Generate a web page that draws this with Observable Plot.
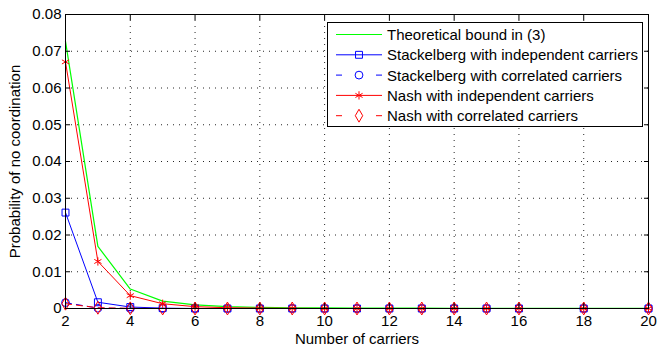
<!DOCTYPE html>
<html><head><meta charset="utf-8">
<script src="https://cdn.jsdelivr.net/npm/d3@7"></script>
<script src="https://cdn.jsdelivr.net/npm/@observablehq/plot@0.6"></script>
<style>
html,body{margin:0;padding:0;background:#fff;}
#wrap{position:relative;width:657px;height:347px;}
#legend{position:absolute;left:327px;top:22px;}
</style></head><body><div id="wrap"></div>
<script>
const carriers = [2,3,4,5,6,7,8,9,10,11,12,13,14,15,16,18,20];
const theoreticalBound = [0.0727,0.0169,0.0053,0.0020,0.0010,0.0005,0.0003,0.0002,0.00015,0.0001,0.0001,0.00008,0.00007,0.00006,0.00005,0.00005,0.00005];
const stackelbergIndependent = [0.0261,0.0017,0.0004,0.0001,0,0,0,0,0,0,0,0,0,0,0,0,0];
const stackelbergCorrelated = [0.0016,0.0001,0,0,0,0,0,0,0,0,0,0,0,0,0,0,0];
const nashIndependent = [0.0671,0.0128,0.0035,0.0013,0.0005,0.0002,0.0001,0.00005,0,0,0,0,0,0,0,0,0];
const nashCorrelated = [0.0013,0.0002,0.00005,0,0,0,0,0,0,0,0,0,0,0,0,0,0];
const xTicks = [2,4,6,8,10,12,14,16,18,20];
const yTicks = [0,0.01,0.02,0.03,0.04,0.05,0.06,0.07,0.08];
const yTickLabels = ["0","0.01","0.02","0.03","0.04","0.05","0.06","0.07","0.08"];
const xLabel = "Number of carriers";
const yLabel = "Probability of no coordination";
const seriesNames = ["Theoretical bound in (3)","Stackelberg with independent carriers","Stackelberg with correlated carriers","Nash with independent carriers","Nash with correlated carriers"];
const seriesValues = [theoreticalBound, stackelbergIndependent, stackelbergCorrelated, nashIndependent, nashCorrelated];
const seriesColors = ["#00ff00","#0000ff","#0000ff","#ff0000","#ff0000"];
const seriesDash = [null,null,"6,5",null,"6,5"];
const seriesSymbols = [null,"square","circle","asterisk","diamond"];

const R = 3.9;
const font = "'Liberation Sans', Arial, Helvetica, sans-serif";
const marks = [
  Plot.gridX(xTicks, {stroke: "#000", strokeOpacity: 0.85, strokeDasharray: "1,5"}),
  Plot.gridY(yTicks, {stroke: "#000", strokeOpacity: 0.85, strokeDasharray: "1,5"}),
];
seriesValues.forEach((vals, s) => {
  const rows = carriers.map((c, i) => ({x: c, y: vals[i]}));
  marks.push(Plot.line(rows, {x: "x", y: "y", stroke: seriesColors[s], strokeWidth: s === 0 ? 1.2 : 1, strokeDasharray: seriesDash[s]}));
  if (seriesSymbols[s]) marks.push(Plot.dot(rows, {x: "x", y: "y", r: R, symbol: () => seriesSymbols[s], stroke: seriesColors[s], fill: "none", strokeWidth: 1}));
});
marks.push(
  Plot.frame({stroke: "#000", strokeWidth: 1}),
  Plot.axisX(xTicks, {anchor: "bottom", tickSize: -5, tickPadding: 12, label: null}),
  Plot.axisX(xTicks, {anchor: "top", tickSize: -5, tickFormat: () => "", label: null}),
  Plot.axisY(yTicks, {anchor: "left", tickSize: -5, tickPadding: 9, tickFormat: (d, i) => yTickLabels[i], label: null}),
  Plot.axisY(yTicks, {anchor: "right", tickSize: -5, tickFormat: () => "", label: null}),
  Plot.text([xLabel], {frameAnchor: "bottom", dy: 31, text: d => d, lineAnchor: "middle"}),
  Plot.text([yLabel], {frameAnchor: "left", dx: -50, text: d => d, rotate: -90, lineAnchor: "middle", textAnchor: "middle"})
);

const chart = Plot.plot({
  width: 657, height: 347,
  marginLeft: 65, marginRight: 9, marginTop: 14, marginBottom: 39,
  x: {domain: [2, 20]},
  y: {domain: [0, 0.08]},
  style: {fontSize: "15px", fontFamily: font, color: "#000", background: "#fff", overflow: "visible"},
  marks
});
const wrap = document.getElementById("wrap");
wrap.appendChild(chart);

// legend
const lw = 315, lh = 104;
const leg = d3.select(wrap).append("svg").attr("id", "legend").attr("width", lw + 1).attr("height", lh + 1)
  .style("font-family", font).style("font-size", "15px");
leg.append("rect").attr("x", 0.5).attr("y", 0.5).attr("width", lw).attr("height", lh).attr("fill", "#fff").attr("stroke", "#000");
const symMap = {square: d3.symbolSquare, circle: d3.symbolCircle, asterisk: d3.symbolAsterisk, diamond: d3.symbolDiamond};
seriesNames.forEach((name, s) => {
  const cy = 12.5 + s * 20.3;
  const segs = seriesDash[s] ? [[9, 15], [49, 55]] : [[9, 55]];
  segs.forEach(([a, b]) => leg.append("line").attr("x1", a).attr("x2", b).attr("y1", cy).attr("y2", cy)
    .attr("stroke", seriesColors[s]).attr("stroke-width", s === 0 ? 1.2 : 1));
  if (seriesSymbols[s]) {
    leg.append("path").attr("d", d3.symbol(symMap[seriesSymbols[s]], Math.PI * R * R)()).attr("transform", `translate(32,${cy})`)
      .attr("fill", "none").attr("stroke", seriesColors[s]);
  }
  leg.append("text").attr("x", 60).attr("y", cy + 5.4).text(name);
});
</script></body></html>
